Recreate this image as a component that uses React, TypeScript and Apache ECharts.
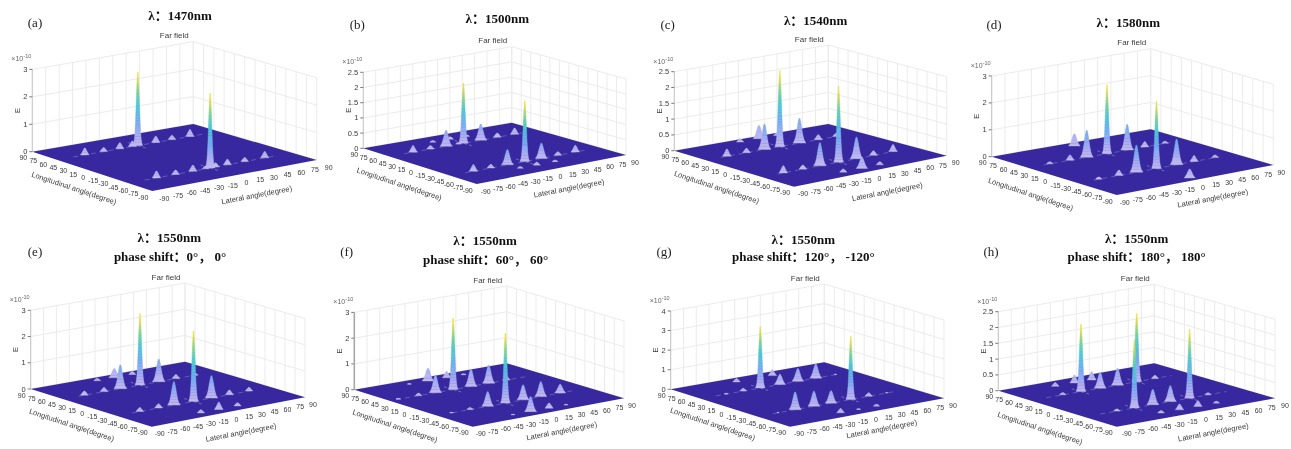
import React, { useEffect, useRef } from "react";
import * as echarts from "echarts";

// Peak tables: [lateral angle, longitudinal angle, E in 1e-10]
const peaksA = [
  [-59, 53, 0.25], [-38, 53, 0.15], [-20, 53, 0.22], [-6, 53, 0.2], [0, 53, 2.67], [20, 53, 0.23], [38, 53, 0.16], [58, 53, 0.25],
  [-59, -54, 0.25], [-38, -54, 0.16], [-19, -54, 0.22], [-5, -54, 0.1], [0, -54, 2.72], [6, -54, 0.15], [19, -54, 0.2], [38, -54, 0.15], [60, -54, 0.23],
];
const peaksB = [
  [-61, 49, 0.22], [-40, 49, 0.12], [-21, 49, 0.53], [-6, 49, 0.05], [0, 49, 1.97], [21, 49, 0.53], [41, 49, 0.14], [62, 49, 0.2],
  [-62, -48, 0.22], [-41, -48, 0.12], [-21, -48, 0.5], [0, -48, 2.0], [20, -48, 0.5], [40, -48, 0.12], [61, -48, 0.22],
  [-21, 70, 0.06], [0, 70, 0.08], [20, 70, 0.05], [-20, -67, 0.06], [0, -67, 0.1], [22, -67, 0.05],
];
const peaksC = [
  [-65, 43, 0.23], [-42, 43, 0.14], [-21, 43, 0.8], [-3, 43, 2.4], [20, 43, 0.78], [42, 43, 0.16], [63, 43, 0.1],
  [-65, -42, 0.23], [-42, -42, 0.13], [-22, -42, 0.73], [0, -42, 2.4], [21, -42, 0.68], [41, -42, 0.15], [64, -42, 0.22],
  [-20, 81, 0.1], [2, 81, 0.42], [23, 81, 0.08], [-21, -76, 0.1], [1, -76, 0.35], [22, -76, 0.1],
];
const peaksD = [
  [-65, 38, 0.08], [-42, 38, 0.2], [-23, 38, 1.0], [0, 38, 2.56], [23, 38, 0.95], [43, 38, 0.2], [66, 38, 0.08],
  [-66, -34, 0.08], [-43, -34, 0.2], [-23, -34, 1.0], [0, -34, 2.49], [23, -34, 0.95], [43, -34, 0.22], [67, -34, 0.1],
  [-5, 79, 0.45], [1, -81, 0.33],
];
const peaksE = [
  [-65, 42, 0.16], [-42, 42, 0.16], [-23, 42, 0.9], [0, 42, 2.72], [22, 42, 0.86], [42, 42, 0.16], [64, 42, 0.08],
  [-63, -38, 0.15], [-41, -38, 0.16], [-23, -38, 0.89], [0, -38, 2.67], [21, -38, 0.85], [42, -38, 0.18], [65, -38, 0.14],
  [-21, 79, 0.1], [-1, 79, 0.35], [20, 79, 0.12], [-22, -77, 0.12], [-1, -77, 0.28], [21, -77, 0.12],
];
const peaksF = [
  [-80, 36, 0.04], [-56, 36, 0.1], [-36, 36, 0.68], [-15, 36, 2.77], [6, 36, 0.67], [27, 36, 0.7], [48, 36, 0.15],
  [-73, -36, 0.03], [-51, -36, 0.08], [-30, -36, 0.57], [-9, -36, 2.7], [12, -36, 0.58], [33, -36, 0.58], [56, -36, 0.34],
  [-35, 77, 0.03], [-13, 77, 0.5], [9, 77, 0.25], [29, 77, 0.04],
  [-32, -77, 0.03], [-11, -77, 0.58], [11, -77, 0.2], [31, -77, 0.03],
];
const peaksG = [
  [-60, 45, 0.04], [-40, 45, 0.14], [-20, 45, 3.13], [3, 45, 0.52], [24, 45, 0.65], [45, 45, 0.73], [68, 45, 0.03],
  [-66, -41, 0.03], [-46, -41, 0.9], [-24, -41, 0.77], [-4, -41, 0.63], [19, -41, 3.23], [40, -41, 0.18], [61, -41, 0.03],
  [-23, 77, 0.18], [19, 77, 0.3], [-20, -76, 0.22], [1, -76, 0.04], [22, -76, 0.1],
];
const peaksH = [
  [-53, 41, 0.07], [-32, 41, 2.13], [-10, 41, 0.5], [10, 41, 0.53], [32, 41, 2.16], [53, 41, 0.1],
  [-53, -41, 0.07], [-33, -41, 2.15], [-12, -41, 0.48], [8, -41, 0.5], [30, -41, 2.17], [51, -41, 0.07],
  [-38, 72, 0.12], [-16, 72, 0.25], [4, 72, 0.26], [-26, -72, 0.08], [-5, -72, 0.18], [16, -72, 0.18], [37, -72, 0.06],
];

const ANGLE_TICKS = [-90, -75, -60, -45, -30, -15, 0, 15, 30, 45, 60, 75, 90];
const zTicks3 = [0, 1, 2, 3];
const zTicks25 = [0, 0.5, 1, 1.5, 2, 2.5];
const zTicks4 = [0, 1, 2, 3, 4];

const LAT_LABEL = "Lateral angle(degree)";
const LON_LABEL = "Longitudinal angle(degree)";
const PLOT_TITLE = "Far field";

type Pt = [number, number];
interface Panel {
  tag: string; tagAt: Pt; titles: string[]; titleAt: Pt[];
  L: Pt; B: Pt; F: Pt; R: Pt; zHeight: number; ticks: number[];
  peaks: number[][]; rows: number[]; axisW: number;
  lonAt: Pt; latAt: Pt; latDx: number;
}
const lam = (n: number) => `λ：${n}nm`;
const P = (x: number, y: number): Pt => [x, y];

const panels: Panel[] = [
  { tag: "(a)", tagAt: P(35, 22.7), titles: [lam(1470)], titleAt: [P(180, 15)], L: P(32.3, 151.7), B: P(193.3, 124), F: P(152.3, 191), R: P(316.7, 160), zHeight: 82.3, ticks: zTicks3, peaks: peaksA, rows: [53, -54], axisW: 0.6, lonAt: P(74, 188.3), latAt: P(256.7, 195), latDx: 12 },
  { tag: "(b)", tagAt: P(357.3, 24), titles: [lam(1500)], titleAt: [P(497.3, 18.3)], L: P(363.3, 148.3), B: P(511.7, 122.7), F: P(476.7, 184), R: P(626, 155), zHeight: 76, ticks: zTicks25, peaks: peaksB, rows: [49, -48], axisW: 0.6, lonAt: P(399.3, 184), latAt: P(569, 188.3), latDx: 9 },
  { tag: "(c)", tagAt: P(667.7, 24), titles: [lam(1540)], titleAt: [P(815.7, 20.7)], L: P(674.3, 150.7), B: P(828.3, 124), F: P(794, 186.7), R: P(946.7, 155.7), zHeight: 79, ticks: zTicks25, peaks: peaksC, rows: [43, -42], axisW: 0.6, lonAt: P(716.7, 187.3), latAt: P(887.3, 191.7), latDx: 9 },
  { tag: "(d)", tagAt: P(994, 24), titles: [lam(1580)], titleAt: [P(1128.3, 22.7)], L: P(991.7, 156.7), B: P(1150.7, 129.3), F: P(1116.7, 195), R: P(1273.3, 165), zHeight: 80.7, ticks: zTicks3, peaks: peaksD, rows: [38, -34], axisW: 0.6, lonAt: P(1030.7, 194.3), latAt: P(1212.7, 198.3), latDx: 8 },
  { tag: "(e)", tagAt: P(35, 251.7), titles: [lam(1550), "phase shift：0°， 0°"], titleAt: [P(169.3, 237.7), P(170, 256)], L: P(30.7, 389), B: P(185, 361.7), F: P(151.7, 426.7), R: P(305, 397.3), zHeight: 78.7, ticks: zTicks3, peaks: peaksE, rows: [42, -38], axisW: 0.6, lonAt: P(71.7, 425), latAt: P(241, 432.5), latDx: 8 },
  { tag: "(f)", tagAt: P(346.7, 251), titles: [lam(1550), "phase shift：60°， 60°"], titleAt: [P(485, 240.7), P(485.7, 259)], L: P(354.3, 389.7), B: P(506.7, 363.3), F: P(472.7, 426.7), R: P(624, 398.3), zHeight: 77.3, ticks: zTicks3, peaks: peaksF, rows: [36, -36], axisW: 1.6, lonAt: P(395, 426), latAt: P(561.7, 431), latDx: 8 },
  { tag: "(g)", tagAt: P(664, 251.7), titles: [lam(1550), "phase shift：120°， -120°"], titleAt: [P(803.3, 239), P(803.3, 256.7)], L: P(670.7, 389.3), B: P(824.3, 362.3), F: P(790, 426.7), R: P(944, 398.3), zHeight: 78.3, ticks: zTicks4, peaks: peaksG, rows: [45, -41], axisW: 0.6, lonAt: P(712.7, 424), latAt: P(881.7, 429), latDx: 9 },
  { tag: "(h)", tagAt: P(991, 251.7), titles: [lam(1550), "phase shift：180°， 180°"], titleAt: [P(1136.7, 238.3), P(1136.7, 256.7)], L: P(998.3, 390.7), B: P(1154.3, 363.3), F: P(1116.7, 426.7), R: P(1275, 398.3), zHeight: 79, ticks: zTicks25, peaks: peaksH, rows: [41, -41], axisW: 0.6, lonAt: P(1040, 428.3), latAt: P(1213.3, 432.3), latDx: 10 },
];

const SANS = "'Liberation Sans', Arial, sans-serif";
const SERIF = "'Liberation Serif', 'Noto Sans CJK SC', serif";
const GRID = "#ebebeb";
const INK = "#3a3a3a";
const FLOOR = "#38289f";

const STOPS: [number, number[]][] = [
  [0, [196, 190, 238]], [0.14, [172, 174, 242]], [0.34, [118, 170, 240]], [0.55, [76, 196, 216]],
  [0.72, [112, 208, 160]], [0.88, [200, 216, 96]], [1, [246, 224, 64]],
];
function colorAt(t: number) {
  const v = Math.max(0, Math.min(1, t));
  let i = 0;
  while (i < STOPS.length - 2 && v > STOPS[i + 1][0]) i++;
  const [a, ca] = STOPS[i];
  const [b, cb] = STOPS[i + 1];
  const k = (v - a) / (b - a);
  const c = ca.map((x, j) => x + (cb[j] - x) * k);
  return `rgb(${c.map((x) => Math.round(Math.min(255, x))).join(",")})`;
}

function project(p: Panel, lat: number, lon: number): Pt {
  const u = (lat + 90) / 180;
  const v = (90 - lon) / 180;
  const f = (i: 0 | 1) =>
    (1 - u) * (1 - v) * p.L[i] + u * (1 - v) * p.B[i] + (1 - u) * v * p.F[i] + u * v * p.R[i];
  return [f(0), f(1)];
}

const zMaxOf = (p: Panel) => p.ticks[p.ticks.length - 1];
const pxPerUnit = (p: Panel) => p.zHeight / zMaxOf(p);

function line(a: Pt, b: Pt, stroke: string, lineWidth = 1) {
  return { type: "line", shape: { x1: a[0], y1: a[1], x2: b[0], y2: b[1] }, style: { stroke, lineWidth }, silent: true };
}
function text(s: string, x: number, y: number, opt: any = {}, rotation = 0) {
  return {
    type: "text", x, y, rotation, silent: true,
    style: { text: s, fontFamily: SANS, fontSize: 7, fill: INK, align: "center", verticalAlign: "middle", ...opt },
  };
}

function frameChildren(p: Panel) {
  const out: any[] = [];
  const zMax = zMaxOf(p);
  const lift = (q: Pt, z: number): Pt => [q[0], q[1] - z * pxPerUnit(p)];
  for (const d of ANGLE_TICKS) {
    const a = project(p, d, 90);
    out.push(line(a, lift(a, zMax), GRID));
    const b = project(p, 90, d);
    out.push(line(b, lift(b, zMax), GRID));
  }
  for (const z of p.ticks) {
    out.push(line(lift(p.L, z), lift(p.B, z), GRID));
    out.push(line(lift(p.B, z), lift(p.R, z), GRID));
    out.push(line([p.L[0] - 3, lift(p.L, z)[1]], lift(p.L, z), INK, 0.7));
    out.push(text(String(z), p.L[0] - 5, lift(p.L, z)[1], { align: "right", fontSize: 7.5 }));
  }
  out.push(line(p.L, lift(p.L, zMax), "#a8a8a8", p.axisW));
  out.push({ type: "polygon", silent: true, shape: { points: [p.L, p.B, p.R, p.F] }, style: { fill: FLOOR } });
  for (const lon of p.rows) {
    out.push({
      type: "polyline", silent: true,
      shape: { points: [project(p, -72, lon), project(p, 72, lon)] },
      style: { stroke: "rgba(190,186,236,0.55)", lineWidth: 0.6, lineDash: [5, 4], fill: "none" },
    });
  }
  for (const d of ANGLE_TICKS) {
    const lo = project(p, -90, d);
    out.push(text(String(d), lo[0] - 9, lo[1] + 6));
    const la = project(p, d, -90);
    out.push(text(String(d), la[0] + p.latDx, la[1] + 7));
  }
  const top = lift(p.L, zMax);
  out.push(text("×10", top[0] - 15, top[1] - 10.5, { fontSize: 7, fill: "#666" }));
  out.push(text("-10", top[0] - 5, top[1] - 13, { fontSize: 5.5, fill: "#666" }));
  const zMid = lift(p.L, zMax / 2);
  out.push(text("E", p.L[0] - 15, zMid[1], { fontSize: 8 }, Math.PI / 2));
  const bTop = lift(p.B, zMax);
  out.push(text(PLOT_TITLE, bTop[0] - 19, bTop[1] - 6, { fontSize: 8 }));
  out.push(text(LON_LABEL, p.lonAt[0], p.lonAt[1], { fontSize: 7.5 }, (-18.5 * Math.PI) / 180));
  out.push(text(LAT_LABEL, p.latAt[0], p.latAt[1], { fontSize: 7.5 }, (11 * Math.PI) / 180));
  return out;
}

function peakChildren(p: Panel, lat: number, lon: number, h: number) {
  const scale = pxPerUnit(p);
  const zMax = Math.max(...p.peaks.map((q) => q[2]));
  const [bx, by] = project(p, lat, lon);
  const sigma = h > 1.5 ? 1.55 : h > 0.3 ? 2.3 : 1.9;
  const hPx = h * scale;
  const floorPx = 0.5;
  const width = (zp: number) => sigma * Math.sqrt(2 * Math.log(Math.max(1.0001, hPx / Math.max(zp, floorPx))));
  const n = Math.max(2, Math.ceil(hPx / 3));
  const out: any[] = [];
  if (h > 1.5) {
    out.push({
      type: "polyline", silent: true,
      shape: { points: [project(p, lat, lon + 14), project(p, lat, lon - 14)] },
      style: { stroke: "rgba(200,196,240,0.6)", lineWidth: 0.7, lineDash: [3, 2], fill: "none" },
    });
  }
  for (let i = 0; i < n; i++) {
    const z0 = (hPx * i) / n;
    const z1 = (hPx * (i + 1)) / n;
    const w0 = width(z0);
    const w1 = i === n - 1 ? 0.5 : width(z1);
    const fill = colorAt((z1 / scale) / zMax);
    out.push({
      type: "polygon", silent: true,
      shape: { points: [[bx - w0, by - z0], [bx + w0, by - z0], [bx + w1, by - z1], [bx - w1, by - z1]] },
      style: { fill, stroke: fill, lineWidth: 0.4 },
    });
  }
  return out;
}

export default function App() {
  const ref = useRef<HTMLDivElement>(null);
  useEffect(() => {
    document.documentElement.lang = "zh-CN";
    const chart = echarts.init(ref.current!, null, { renderer: "svg", width: 1291, height: 449 });
    const series: any[] = [];
    const graphic: any[] = [];
    panels.forEach((p) => {
      series.push({
        type: "custom", coordinateSystem: "none", silent: true, clip: false, data: [[0]],
        renderItem: () => ({ type: "group", children: frameChildren(p) }),
      });
      const ordered = [...p.peaks].sort((a, b) => project(p, a[0], a[1])[1] - project(p, b[0], b[1])[1]);
      series.push({
        type: "custom", coordinateSystem: "none", silent: true, clip: false, data: ordered,
        renderItem: (_: any, api: any) => ({
          type: "group",
          children: peakChildren(p, api.value(0), api.value(1), api.value(2)),
        }),
      });
      graphic.push({
        type: "text", x: p.tagAt[0], y: p.tagAt[1], silent: true,
        style: { text: p.tag, fontFamily: SERIF, fontSize: 13, fill: "#222", align: "center", verticalAlign: "middle" },
      });
      p.titles.forEach((t, i) => {
        graphic.push({
          type: "text", x: p.titleAt[i][0], y: p.titleAt[i][1], silent: true,
          style: { text: t, fontFamily: SERIF, fontSize: 13, fontWeight: "bold", fill: "#111", align: "center", verticalAlign: "middle" },
        });
      });
    });
    chart.setOption({ animation: false, backgroundColor: "#fff", tooltip: { show: false }, series, graphic });
    return () => chart.dispose();
  }, []);
  return (
    <div
      ref={ref}
      style={{ position: "absolute", left: 0, top: 0, width: 1291, height: 449, filter: "blur(0.45px)" }}
    />
  );
}
